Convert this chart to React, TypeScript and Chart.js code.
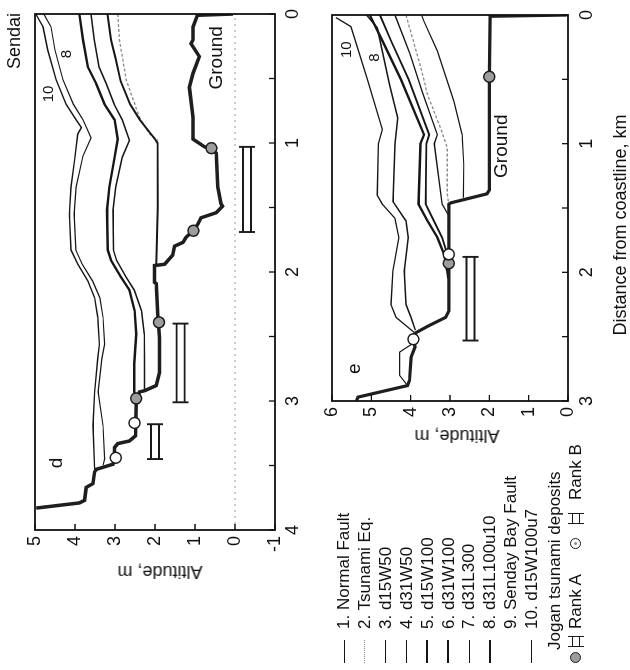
import React, { useEffect, useRef } from "react";
import { Chart, registerables } from "chart.js";
Chart.register(...registerables);

const FONT = '"Liberation Sans", Arial, Helvetica, sans-serif';

// ---------- Panel d (distance 0–4 km, altitude -1–5 m) ----------
const dGroundDist = [0, 0.01, 0.1, 0.2, 0.23, 0.33, 0.46, 0.57, 0.8, 0.97, 1.03, 1.04, 1.08, 1.34, 1.47, 1.49, 1.54, 1.58, 1.63, 1.68, 1.73, 1.77, 1.8, 1.87, 1.94, 1.95, 2.08, 2.09, 2.33, 2.51, 2.71, 2.78, 2.88, 2.92, 2.93, 3.01, 3.27, 3.31, 3.33, 3.36, 3.44, 3.49, 3.53, 3.55, 3.64, 3.67, 3.77, 3.79, 3.83];
const dGroundAlt = [0.05, 0.94, 1.05, 1.05, 1.1, 0.89, 1.05, 1.14, 1.05, 1.05, 0.76, 0.59, 0.47, 0.43, 0.35, 0.31, 0.47, 0.85, 0.93, 1.04, 1.22, 1.3, 1.51, 1.56, 1.76, 2.01, 2.01, 1.97, 1.93, 1.89, 1.89, 1.89, 1.97, 2.26, 2.39, 2.47, 2.49, 2.64, 2.93, 3.01, 3.01, 3.05, 3.47, 3.51, 3.55, 3.72, 3.76, 3.89, 4.97];

const d10Dist = [0, 0.1, 0.28, 0.51, 0.7, 0.82, 0.88, 0.93, 1.13, 1.34, 1.55, 1.83, 1.94, 2.07, 2.2, 2.35, 2.56, 2.67, 2.93, 3.19, 3.53];
const d10Alt = [4.98, 4.8, 4.68, 4.47, 4.22, 3.97, 3.84, 3.93, 4.01, 4.1, 4.14, 4.1, 3.93, 3.68, 3.51, 3.43, 3.39, 3.43, 3.51, 3.55, 3.51];

const d9Dist = [0, 0.1, 0.28, 0.51, 0.7, 0.82, 0.96, 1.1, 1.34, 1.55, 1.83, 1.94, 2.07, 2.2, 2.35, 2.56, 2.67, 2.93, 3.19, 3.45, 3.5];
const d9Alt = [4.78, 4.6, 4.5, 4.3, 4.04, 3.8, 3.6, 3.8, 3.97, 4.02, 3.98, 3.82, 3.56, 3.38, 3.3, 3.26, 3.33, 3.42, 3.3, 3.26, 3.3];

const d8Dist = [0, 0.2, 0.41, 0.54, 0.7, 0.82, 0.97, 1.11, 1.34, 1.52, 1.83, 1.91, 2.04, 2.14, 2.3, 2.48, 2.71, 2.93, 2.98];
const d8Alt = [3.89, 3.8, 3.68, 3.47, 3.26, 3.01, 2.93, 3.01, 3.14, 3.2, 3.18, 3.1, 2.85, 2.64, 2.51, 2.47, 2.52, 2.52, 2.47];

const d7Dist = [0, 0.2, 0.41, 0.54, 0.7, 0.82, 0.98, 1.11, 1.34, 1.52, 1.83, 1.91, 2.04, 2.14, 2.3, 2.48, 2.71, 2.92];
const d7Alt = [3.6, 3.52, 3.4, 3.22, 3.02, 2.82, 2.64, 2.82, 2.98, 3.05, 3.04, 2.96, 2.72, 2.52, 2.34, 2.27, 2.26, 2.26];

const d5Dist = [0, 0.2, 0.35, 0.52, 0.7, 0.82, 0.97, 1.0, 1.5, 1.95];
const d5Alt = [3.19, 3.1, 2.98, 2.86, 2.62, 2.38, 2.0, 1.94, 1.93, 1.97];

const d2Dist = [0, 0.2, 0.51, 0.8, 0.93, 0.98];
const d2Alt = [2.93, 2.89, 2.72, 2.39, 2.14, 1.92];

const dRankADist = [1.04, 1.68, 2.39, 2.98];
const dRankAAlt = [0.59, 1.04, 1.9, 2.47];
const dRankBDist = [3.17, 3.44];
const dRankBAlt = [2.51, 2.98];

const dBarFrom = [1.03, 2.4, 3.18];
const dBarTo = [1.69, 3.01, 3.45];
const dBarAlt = [-0.3, 1.36, 2.0];

// ---------- Panel e (distance 0–3 km, altitude 0–6 m) ----------
const eGroundDist = [0, 0.01, 0.48, 1.36, 1.39, 1.46, 1.47, 2.3, 2.35, 2.42, 2.47, 2.52, 2.58, 2.66, 2.84, 2.88, 2.97, 3.0];
const eGroundAlt = [0.03, 1.98, 2.0, 2.0, 2.06, 2.98, 3.03, 3.03, 3.11, 3.57, 3.87, 3.93, 3.89, 3.99, 4.03, 4.08, 5.34, 5.38];

const e10Dist = [0.02, 0.09, 0.5, 0.89, 1.0, 1.4, 1.47, 1.58, 1.73, 1.99, 2.25, 2.35, 2.47];
const e10Alt = [5.9, 5.52, 5.1, 4.72, 4.82, 4.85, 4.72, 4.4, 4.3, 4.45, 4.5, 4.37, 3.9];

const e8Dist = [0, 0.1, 0.54, 0.8, 1.0, 1.45, 1.6, 1.73, 1.99, 2.25, 2.35, 2.45];
const e8Alt = [5.12, 4.85, 4.54, 4.33, 4.4, 4.45, 4.12, 4.06, 4.16, 4.12, 3.99, 3.88];

const e6Dist = [0, 0.2, 0.5, 0.93, 1.0, 1.47, 1.6, 1.73, 1.86, 1.99, 2.05];
const e6Alt = [5.04, 4.72, 4.25, 3.66, 3.75, 3.8, 3.57, 3.32, 3.15, 3.07, 3.04];

const e5Dist = [0, 0.2, 0.5, 0.93, 1.0, 1.47, 1.6, 1.73, 1.83, 1.9];
const e5Alt = [4.78, 4.5, 4.05, 3.53, 3.6, 3.62, 3.41, 3.2, 3.1, 3.04];

const e4Dist = [0, 0.3, 0.6, 0.93, 1.0, 1.47, 1.55];
const e4Alt = [4.4, 4.02, 3.7, 3.32, 3.4, 3.2, 3.05];

const e2Dist = [0, 0.41, 0.62, 0.88, 1.03, 1.39, 1.47];
const e2Alt = [4.12, 3.74, 3.57, 3.24, 3.07, 3.07, 3.03];

const e1Dist = [0, 0.05, 0.28, 0.67, 0.93, 1.16, 1.42];
const e1Alt = [3.72, 3.66, 3.32, 2.9, 2.69, 2.65, 2.66];

const eLowDist = [2.55, 2.62, 2.8, 2.88];
const eLowAlt = [3.93, 4.28, 4.28, 4.08];

const eRankADist = [0.48, 1.93];
const eRankAAlt = [2.0, 3.03];
const eRankBDist = [1.86, 2.52];
const eRankBAlt = [3.03, 3.93];

const eBarFrom = [1.88];
const eBarTo = [2.53];
const eBarAlt = [2.48];

// ---------- Legend ----------
const legendLabels = [
  "1. Normal Fault",
  "2. Tsunami Eq.",
  "3. d15W50",
  "4. d31W50",
  "5. d15W100",
  "6. d31W100",
  "7. d31L300",
  "8. d31L100u10",
  "9. Senday Bay Fault",
  "10. d15W100u7",
];
const legendWidths = [1, 1, 1.2, 1.5, 2.5, 2.5, 1.5, 2.2, 0, 1.8];

const pts = (xs: number[], ys: number[]) => xs.map((x, i) => ({ x, y: ys[i] }));

const lineDs = (xs: number[], ys: number[], color: string, width: number, dash: number[] = [], order = 2) => ({
  data: pts(xs, ys),
  showLine: true,
  borderColor: color,
  borderWidth: width,
  borderDash: dash,
  pointRadius: 0,
  fill: false,
  tension: 0,
  order,
});

const markerDs = (xs: number[], ys: number[], fillColor: string, radius: number, borderW: number) => ({
  data: pts(xs, ys),
  showLine: false,
  pointRadius: radius,
  pointBackgroundColor: fillColor,
  pointBorderColor: "#1a1a1a",
  pointBorderWidth: borderW,
  order: 0,
});

type TextItem = { t: string; x: number; y: number; size: number };

const makeDecor = (bars: { from: number[]; to: number[]; alt: number[] }, texts: TextItem[], zeroLine: boolean) => ({
  id: "decor",
  beforeDatasetsDraw(chart: any) {
    if (!zeroLine) return;
    const { ctx, chartArea: a, scales } = chart;
    const py = scales.y.getPixelForValue(0);
    ctx.save();
    ctx.strokeStyle = "#9a9a9a";
    ctx.lineWidth = 1;
    ctx.setLineDash([2, 4]);
    ctx.beginPath();
    ctx.moveTo(a.left, py);
    ctx.lineTo(a.right, py);
    ctx.stroke();
    ctx.restore();
  },
  afterDatasetsDraw(chart: any) {
    const { ctx, chartArea: a, scales } = chart;
    const x = scales.x;
    const y = scales.y;
    ctx.save();
    // Jogan deposit extents (double bars with end caps)
    ctx.strokeStyle = "#1a1a1a";
    ctx.lineWidth = 1.9;
    bars.from.forEach((f, i) => {
      const x1 = x.getPixelForValue(f);
      const x2 = x.getPixelForValue(bars.to[i]);
      const py = y.getPixelForValue(bars.alt[i]);
      ctx.beginPath();
      ctx.moveTo(x1, py - 4);
      ctx.lineTo(x2, py - 4);
      ctx.moveTo(x1, py + 4);
      ctx.lineTo(x2, py + 4);
      ctx.moveTo(x1, py - 8);
      ctx.lineTo(x1, py + 8);
      ctx.moveTo(x2, py - 8);
      ctx.lineTo(x2, py + 8);
      ctx.stroke();
    });
    // texts
    ctx.fillStyle = "#111";
    ctx.textAlign = "center";
    ctx.textBaseline = "middle";
    texts.forEach((t) => {
      ctx.font = `${t.size}px ${FONT}`;
      ctx.fillText(t.t, x.getPixelForValue(t.x), y.getPixelForValue(t.y));
    });
    // frame
    ctx.strokeStyle = "#111";
    ctx.lineWidth = 1.8;
    ctx.strokeRect(a.left, a.top, a.right - a.left, a.bottom - a.top);
    // inward ticks
    ctx.lineWidth = 1.3;
    ctx.beginPath();
    x.ticks.forEach((tk: any) => {
      const px = x.getPixelForValue(tk.value);
      ctx.moveTo(px, a.bottom);
      ctx.lineTo(px, a.bottom - 6);
    });
    y.ticks.forEach((tk: any) => {
      const py = y.getPixelForValue(tk.value);
      ctx.moveTo(a.left, py);
      ctx.lineTo(a.left + 6, py);
    });
    ctx.stroke();
    ctx.restore();
  },
});

const makeScales = (xMax: number, yMin: number, yMax: number, xH: number, yW: number, xPad: number, yPad: number) => ({
  x: {
    type: "linear",
    reverse: true,
    min: 0,
    max: xMax,
    grid: { display: false, drawTicks: false },
    border: { display: false },
    ticks: {
      stepSize: 0.5,
      autoSkip: false,
      maxRotation: 0,
      minRotation: 0,
      padding: xPad,
      color: "#111",
      font: { family: FONT, size: 18 },
      callback: (v: number) => (Number.isInteger(v) ? String(v) : ""),
    },
    afterFit: (s: any) => {
      s.height = xH;
    },
  },
  y: {
    type: "linear",
    min: yMin,
    max: yMax,
    grid: { display: false, drawTicks: false },
    border: { display: false },
    ticks: {
      stepSize: 1,
      padding: yPad,
      color: "#111",
      font: { family: FONT, size: 18 },
    },
    afterFit: (s: any) => {
      s.width = yW;
    },
  },
});

const BLACK = "#161616";

export default function App() {
  const refD = useRef<HTMLCanvasElement>(null);
  const refE = useRef<HTMLCanvasElement>(null);

  useEffect(() => {
    const cd = new Chart(refD.current as HTMLCanvasElement, {
      type: "scatter",
      data: {
        datasets: [
          markerDs(dRankBDist, dRankBAlt, "#ffffff", 5.5, 1.5),
          markerDs(dRankBDist, dRankBAlt, "#8a8a8a", 1.6, 0),
          markerDs(dRankADist, dRankAAlt, "#9c9c9c", 5.5, 1.5),
          lineDs(dGroundDist, dGroundAlt, "#1e1e1e", 3.5, [], 1),
          lineDs(d10Dist, d10Alt, BLACK, 1.4),
          lineDs(d9Dist, d9Alt, BLACK, 1.2),
          lineDs(d8Dist, d8Alt, BLACK, 2.4),
          lineDs(d7Dist, d7Alt, BLACK, 1.5),
          lineDs(d5Dist, d5Alt, BLACK, 2.0),
          lineDs(d2Dist, d2Alt, "#8a8a8a", 1.3, [3, 2]),
        ] as any,
      },
      options: {
        animation: false,
        responsive: false,
        maintainAspectRatio: false,
        layout: { padding: { left: 0, right: 14, top: 35, bottom: 0 } },
        plugins: { legend: { display: false }, tooltip: { enabled: false } },
        scales: makeScales(4, -1, 5, 55, 140, 7, 6) as any,
      },
      plugins: [
        makeDecor(
          { from: dBarFrom, to: dBarTo, alt: dBarAlt },
          [
            { t: "Ground", x: 0.34, y: 0.45, size: 19 },
            { t: "d", x: 3.48, y: 4.45, size: 19 },
            { t: "10", x: 0.62, y: 4.66, size: 15 },
            { t: "8", x: 0.31, y: 4.2, size: 15 },
          ],
          true
        ),
      ],
    } as any);

    const ce = new Chart(refE.current as HTMLCanvasElement, {
      type: "scatter",
      data: {
        datasets: [
          markerDs(eRankBDist, eRankBAlt, "#ffffff", 5.5, 1.5),
          markerDs(eRankBDist, eRankBAlt, "#8a8a8a", 1.6, 0),
          markerDs(eRankADist, eRankAAlt, "#9c9c9c", 5.5, 1.5),
          lineDs(eGroundDist, eGroundAlt, "#1e1e1e", 3.2, [], 1),
          lineDs(e10Dist, e10Alt, BLACK, 1.3),
          lineDs(e8Dist, e8Alt, BLACK, 1.5),
          lineDs(e6Dist, e6Alt, BLACK, 2.3),
          lineDs(e5Dist, e5Alt, BLACK, 1.9),
          lineDs(e4Dist, e4Alt, BLACK, 1.3),
          lineDs(e2Dist, e2Alt, "#8a8a8a", 1.3, [3, 2]),
          lineDs(e1Dist, e1Alt, BLACK, 1.2),
          lineDs(eLowDist, eLowAlt, BLACK, 1.1),
        ] as any,
      },
      options: {
        animation: false,
        responsive: false,
        maintainAspectRatio: false,
        layout: { padding: { left: 0, right: 15, top: 17, bottom: 0 } },
        plugins: { legend: { display: false }, tooltip: { enabled: false } },
        scales: makeScales(3, 0, 6, 62, 269, 8, 6) as any,
      },
      plugins: [
        makeDecor(
          { from: eBarFrom, to: eBarTo, alt: eBarAlt },
          [
            { t: "Ground", x: 1.02, y: 1.69, size: 19 },
            { t: "e", x: 2.75, y: 5.41, size: 19 },
            { t: "10", x: 0.27, y: 5.62, size: 15 },
            { t: "8", x: 0.33, y: 4.92, size: 15 },
          ],
          false
        ),
      ],
    } as any);

    return () => {
      cd.destroy();
      ce.destroy();
    };
  }, []);

  const vText = (text: string, cx: number, cy: number, size: number) => (
    <div
      style={{
        position: "absolute",
        left: cx,
        top: cy,
        transform: "translate(-50%, -50%) rotate(-90deg)",
        whiteSpace: "nowrap",
        fontSize: size,
        lineHeight: 1,
      }}
    >
      {text}
    </div>
  );

  const barGlyph = (left: number, cy: number) => (
    <div style={{ position: "absolute", left, top: cy - 8, width: 11, height: 16 }}>
      <div style={{ position: "absolute", left: 0, top: 4, width: 11, height: 0, borderTop: "1.8px solid #1a1a1a" }} />
      <div style={{ position: "absolute", left: 0, top: 11, width: 11, height: 0, borderTop: "1.8px solid #1a1a1a" }} />
      <div style={{ position: "absolute", left: 0, top: 0, width: 0, height: 16, borderLeft: "1.8px solid #1a1a1a" }} />
      <div style={{ position: "absolute", left: 10, top: 0, width: 0, height: 16, borderLeft: "1.8px solid #1a1a1a" }} />
    </div>
  );

  const circle = (cx: number, cy: number, fill: string, dot: boolean) => (
    <div
      style={{
        position: "absolute",
        left: cx - 6,
        top: cy - 6,
        width: 9,
        height: 9,
        borderRadius: "50%",
        border: "1.5px solid #1a1a1a",
        background: fill,
      }}
    >
      {dot ? (
        <div style={{ position: "absolute", left: 3, top: 3, width: 3, height: 3, borderRadius: "50%", background: "#8a8a8a" }} />
      ) : null}
    </div>
  );

  return (
    <div style={{ position: "fixed", left: 0, top: 0, width: 630, height: 670, background: "#fff", overflow: "hidden" }}>
      <div
        style={{
          position: "absolute",
          left: 0,
          top: 0,
          width: 670,
          height: 630,
          transformOrigin: "0 0",
          transform: "translateY(670px) rotate(-90deg)",
          fontFamily: FONT,
          color: "#111",
        }}
      >
        <canvas ref={refD} width={670} height={330} style={{ position: "absolute", left: 0, top: 0, width: 670, height: 330 }} />
        <canvas ref={refE} width={670} height={315} style={{ position: "absolute", left: 0, top: 315, width: 670, height: 315 }} />

        {vText("Altitude, m", 98, 160, 18)}
        {vText("Altitude, m", 234, 457, 18)}
        <div style={{ position: "absolute", left: 445, top: 620, transform: "translate(-50%, -50%)", whiteSpace: "nowrap", fontSize: 18, lineHeight: 1 }}>
          Distance from coastline, km
        </div>
        <div style={{ position: "absolute", left: 657, top: 14, transform: "translate(-100%, -50%)", whiteSpace: "nowrap", fontSize: 18, lineHeight: 1 }}>
          Sendai
        </div>

        {legendLabels.map((lab, k) => {
          const cy = 344 + 20.9 * k;
          const w = legendWidths[k];
          return (
            <React.Fragment key={lab}>
              {w > 0 ? (
                <div
                  style={{
                    position: "absolute",
                    left: 7,
                    top: cy - w / 2,
                    width: 23,
                    height: 0,
                    borderTop: k === 1 ? "1px dotted #8a8a8a" : `${w}px solid #161616`,
                  }}
                />
              ) : null}
              <div style={{ position: "absolute", left: 41, top: cy - 10, fontSize: 17, lineHeight: "20px", whiteSpace: "nowrap" }}>{lab}</div>
            </React.Fragment>
          );
        })}
        <div style={{ position: "absolute", left: 20, top: 555 - 10, fontSize: 17, lineHeight: "20px", whiteSpace: "nowrap" }}>
          Jogan tsunami deposits
        </div>
        {circle(13, 576, "#9c9c9c", false)}
        {barGlyph(23, 576)}
        <div style={{ position: "absolute", left: 41, top: 576 - 10, fontSize: 17, lineHeight: "20px", whiteSpace: "nowrap" }}>Rank A</div>
        {circle(127, 576, "#ffffff", true)}
        {barGlyph(146, 576)}
        <div style={{ position: "absolute", left: 170, top: 576 - 10, fontSize: 17, lineHeight: "20px", whiteSpace: "nowrap" }}>Rank B</div>
      </div>
    </div>
  );
}
